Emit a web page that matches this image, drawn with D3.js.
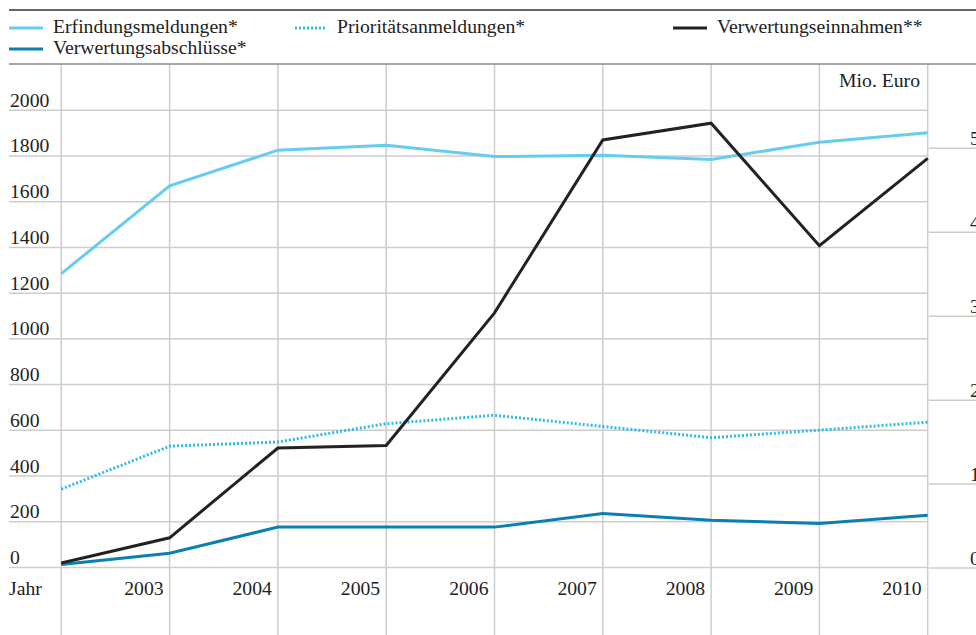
<!DOCTYPE html>
<html>
<head>
<meta charset="utf-8">
<script src="https://cdn.jsdelivr.net/npm/d3@7"></script>
<style>
  body { margin: 0; background: #fff; }
  svg { display: block; font-family: "Liberation Serif", "Times New Roman", serif; }
</style>
</head>
<body>
<div id="chart"></div>
<script>
// data
const years = [2002, 2003, 2004, 2005, 2006, 2007, 2008, 2009, 2010];
const erfindungen = [1285, 1669, 1825, 1847, 1797, 1803, 1784, 1860, 1901];
const prioritaet = [343, 531, 549, 629, 666, 617, 568, 601, 636];
const abschluesse = [14, 63, 177, 177, 177, 237, 207, 193, 229];
const einnahmen = [0.06, 0.36, 1.43, 1.46, 3.04, 5.1, 5.3, 3.84, 4.88]; // Mio. Euro
const leftTicks = [0, 200, 400, 600, 800, 1000, 1200, 1400, 1600, 1800, 2000];
const rightTicks = [0, 1, 2, 3, 4, 5];

const width = 976;
const height = 635;
const grid = '#cdcdcd';
const ink = '#222';
const fontSize = '19.7px';

const svg = d3
  .select('#chart')
  .append('svg')
  .attr('width', width)
  .attr('height', height);

const x = d3.scalePoint().domain(years).range([61.3, 927.7]);
const y = d3.scaleLinear().domain([0, 2200]).range([567.6, 64.4]);
const y2 = d3.scaleLinear().domain([0, 6]).range([568, 64.4]);

// horizontal grid, left axis
svg
  .append('g')
  .selectAll('line')
  .data(leftTicks)
  .join('line')
  .attr('x1', 9)
  .attr('x2', x(2010))
  .attr('y1', (d) => y(d))
  .attr('y2', (d) => y(d))
  .attr('stroke', grid)
  .attr('stroke-width', 1.5);

// horizontal grid, right axis
svg
  .append('g')
  .selectAll('line')
  .data(rightTicks)
  .join('line')
  .attr('x1', x(2010) + 1)
  .attr('x2', width)
  .attr('y1', (d) => y2(d))
  .attr('y2', (d) => y2(d))
  .attr('stroke', grid)
  .attr('stroke-width', 1.5);

// vertical grid
svg
  .append('g')
  .selectAll('line')
  .data(years)
  .join('line')
  .attr('x1', (d) => x(d))
  .attr('x2', (d) => x(d))
  .attr('y1', 64)
  .attr('y2', height)
  .attr('stroke', grid)
  .attr('stroke-width', 1.5);

// header rules
svg.append('line').attr('x1', 9).attr('x2', width).attr('y1', 10).attr('y2', 10)
  .attr('stroke', '#333').attr('stroke-width', 1.5);
svg.append('line').attr('x1', 9).attr('x2', width).attr('y1', 64).attr('y2', 64)
  .attr('stroke', '#8a8a8a').attr('stroke-width', 1.5);

// left tick labels
svg
  .append('g')
  .selectAll('text')
  .data(leftTicks)
  .join('text')
  .attr('x', 10)
  .attr('y', (d) => y(d) - 3.5)
  .attr('fill', ink)
  .style('font-size', fontSize)
  .text((d) => d);

// right tick labels (cut off by the page edge, as in the original)
svg
  .append('g')
  .selectAll('text')
  .data(rightTicks)
  .join('text')
  .attr('x', 970)
  .attr('y', (d) => y2(d) - 3.5)
  .attr('fill', ink)
  .style('font-size', fontSize)
  .text((d) => d);

svg.append('text').attr('x', 920).attr('y', 87).attr('text-anchor', 'end')
  .attr('fill', ink).style('font-size', fontSize).text('Mio. Euro');

// year labels
svg.append('text').attr('x', 9).attr('y', 595).attr('fill', ink)
  .style('font-size', fontSize).text('Jahr');
svg
  .append('g')
  .selectAll('text')
  .data(years.slice(1))
  .join('text')
  .attr('x', (d) => x(d) - 6)
  .attr('y', 595)
  .attr('text-anchor', 'end')
  .attr('fill', ink)
  .style('font-size', fontSize)
  .text((d) => d);

// lines
const series = [
  { name: 'Erfindungsmeldungen*', values: erfindungen, scale: y, color: '#66ccf2', dash: null },
  { name: 'Prioritätsanmeldungen*', values: prioritaet, scale: y, color: '#2ebcec', dash: '2,2' },
  { name: 'Verwertungsabschlüsse*', values: abschluesse, scale: y, color: '#0a80b2', dash: null },
  { name: 'Verwertungseinnahmen**', values: einnahmen, scale: y2, color: '#222', dash: null },
];

series.forEach((s) => {
  const line = d3
    .line()
    .x((d, i) => x(years[i]))
    .y((d) => s.scale(d));
  svg
    .append('path')
    .datum(s.values)
    .attr('d', line)
    .attr('fill', 'none')
    .attr('stroke', s.color)
    .attr('stroke-width', 3)
    .attr('stroke-dasharray', s.dash);
});

// legend
const legendPos = [
  { x: 9, y: 28 },
  { x: 295, y: 28 },
  { x: 9, y: 49 },
  { x: 673, y: 28 },
];
const legend = svg
  .append('g')
  .selectAll('g')
  .data(series)
  .join('g')
  .attr('transform', (d, i) => `translate(${legendPos[i].x},${legendPos[i].y})`);
legend
  .append('line')
  .attr('x1', 0)
  .attr('x2', (d, i) => (i === 1 ? 32 : 34))
  .attr('stroke', (d) => d.color)
  .attr('stroke-width', 3)
  .attr('stroke-dasharray', (d) => d.dash);
legend
  .append('text')
  .attr('x', (d, i) => (i === 1 ? 42 : 44))
  .attr('y', 5)
  .attr('fill', ink)
  .style('font-size', fontSize)
  .text((d) => d.name);
</script>
</body>
</html>
